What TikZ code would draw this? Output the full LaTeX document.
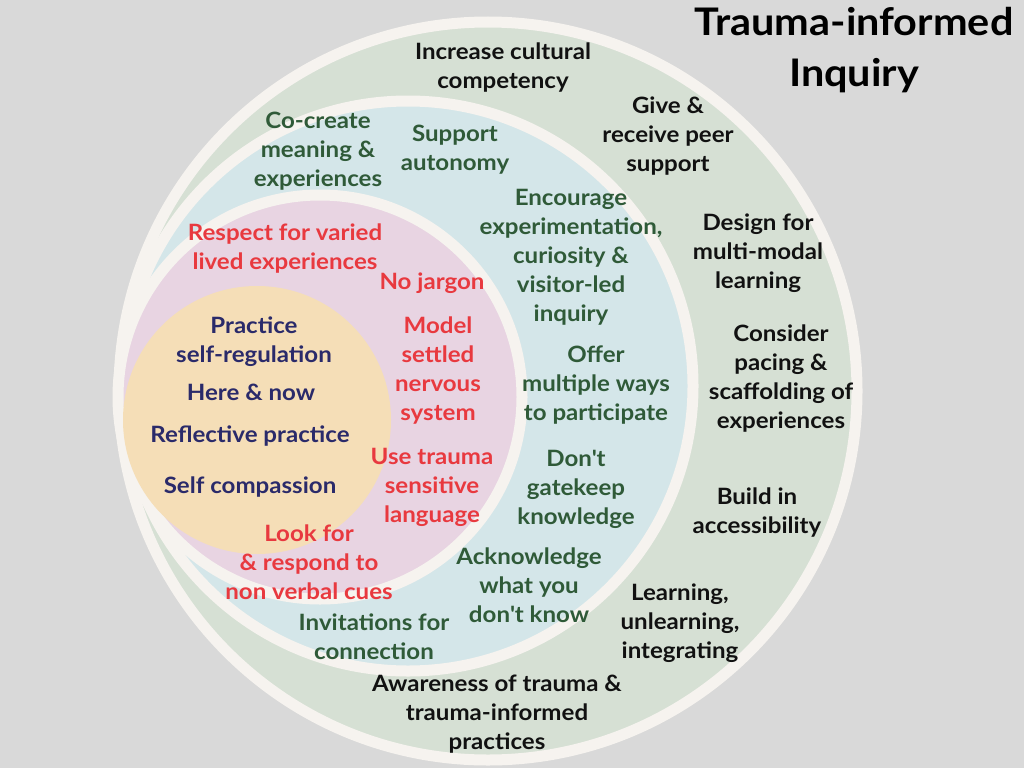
\documentclass[tikz,border=0pt]{standalone}
\usepackage{fontspec}
\setmainfont{Lato}[FakeStretch=1.07]
\newfontfamily\titlefont{Lato}[FakeStretch=1.09]
\definecolor{bg}{HTML}{D9D9D9}
\definecolor{cream}{HTML}{F6F3EF}
\definecolor{ringgreen}{HTML}{D6E0D4}
\definecolor{ringblue}{HTML}{D4E6E9}
\definecolor{ringpink}{HTML}{E8D4E2}
\definecolor{ringorange}{HTML}{F5DEB7}
\definecolor{tblack}{HTML}{111111}
\definecolor{tgreen}{HTML}{2F5A38}
\definecolor{tred}{HTML}{E8393F}
\definecolor{tnavy}{HTML}{2A2A6A}
\newcommand{\apos}{\XeTeXglyph\XeTeXcharglyph"0027\relax}
\tikzset{
  lbl/.style={align=center, inner sep=0pt, font=\fontsize{22.5}{29}\selectfont\bfseries},
  outerlbl/.style={lbl, text=tblack},
  bluelbl/.style={lbl, text=tgreen},
  pinklbl/.style={lbl, text=tred},
  orangelbl/.style={lbl, text=tnavy},
  titlelbl/.style={align=center, inner sep=0pt, font=\titlefont\fontsize{38}{51}\selectfont\bfseries, text=black},
  ringdisc/.style={draw=cream, line width=11pt},
}
\begin{document}
\begin{tikzpicture}[x=1pt,y=-1pt]
\useasboundingbox (0,0) rectangle (1024,768);
\fill[bg] (0,0) rectangle (1024,768);
% rings
\draw[ringdisc, fill=ringgreen] (488,391) circle (369);
\draw[ringdisc, fill=ringblue] (408,386) circle (285);
\draw[ringdisc, fill=ringpink] (320,397) circle (202);
\fill[ringorange] (257,420) circle (134);
% title
\node[titlelbl] (title) at (854,50) {Trauma-informed\\Inquiry};
% outer ring labels
\node[outerlbl] (o1) at (503,68) {Increase cultural\\competency};
\node[outerlbl] (o2) at (668,136) {Give \&\\receive peer\\support};
\node[outerlbl] (o3) at (758,253) {Design for\\multi-modal\\learning};
\node[outerlbl] (o4) at (781,379) {Consider\\pacing \&\\scaffolding of\\experiences};
\node[outerlbl] (o5) at (757,513) {Build in\\accessibility};
\node[outerlbl] (o6) at (680,623) {Learning,\\unlearning,\\integrating};
\node[outerlbl] (o7) at (497,714) {Awareness of trauma \&\\trauma-informed\\practices};
% blue ring labels
\node[bluelbl] (b1) at (318,151) {Co-create\\meaning \&\\experiences};
\node[bluelbl] (b2) at (455,150) {Support\\autonomy};
\node[bluelbl] (b3) at (571,257) {Encourage\\experimentation,\\curiosity \&\\visitor-led\\inquiry};
\node[bluelbl] (b4) at (596,385) {Offer\\multiple ways\\to participate};
\node[bluelbl] (b5) at (576,489) {Don\apos t\\gatekeep\\knowledge};
\node[bluelbl] (b6) at (529,585) {Acknowledge\\what you\\don\apos t know};
\node[bluelbl] (b7) at (374,637) {Invitations for\\connection};
% pink ring labels
\node[pinklbl] (p1) at (285,249) {Respect for varied\\lived experiences};
\node[pinklbl] (p2) at (432,283) {No jargon};
\node[pinklbl] (p3) at (438,371) {Model\\settled\\nervous\\system};
\node[pinklbl] (p4) at (432,487) {Use trauma\\sensitive\\language};
\node[pinklbl] (p5) at (309,562) {Look for\\\& respond to\\non verbal cues};
% orange labels
\node[orangelbl] (c1) at (254,342) {Practice\\self-regulation};
\node[orangelbl] (c2) at (251,392) {Here \& now};
\node[orangelbl] (c3) at (250,436) {Reflective practice};
\node[orangelbl] (c4) at (250,487) {Self compassion};
\end{tikzpicture}
\end{document}
